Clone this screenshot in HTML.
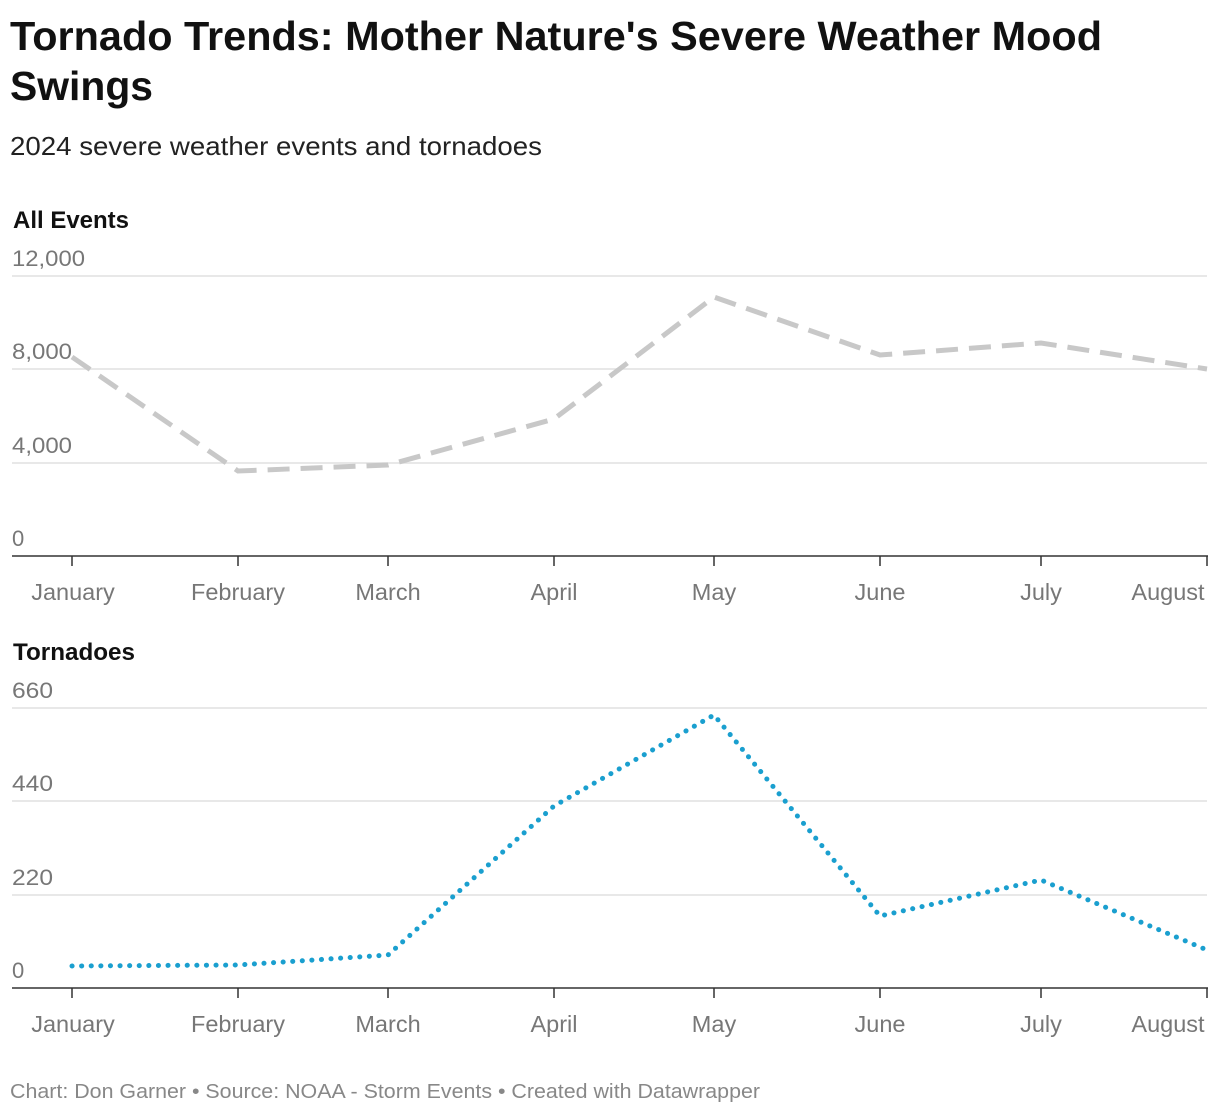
<!DOCTYPE html>
<html><head><meta charset="utf-8"><style>
body{margin:0;background:#fff;font-family:"Liberation Sans",Arial,sans-serif;}
svg{display:block}
</style></head><body>
<svg width="1220" height="1114" xmlns="http://www.w3.org/2000/svg" font-family="Liberation Sans, Arial, sans-serif">
<text x="10" y="50" font-size="41" font-weight="bold" fill="#111" textLength="1092" lengthAdjust="spacingAndGlyphs">Tornado Trends: Mother Nature's Severe Weather Mood</text>
<text x="10" y="100" font-size="41" font-weight="bold" fill="#111" textLength="143" lengthAdjust="spacingAndGlyphs">Swings</text>
<text x="10" y="155" font-size="26" fill="#222" textLength="532" lengthAdjust="spacingAndGlyphs">2024 severe weather events and tornadoes</text>

<text x="13" y="228" font-size="24" font-weight="bold" fill="#111" textLength="116" lengthAdjust="spacingAndGlyphs">All Events</text>
<g stroke="#e0e0e0" stroke-width="1.5">
<line x1="12" y1="276" x2="1207" y2="276"/><line x1="12" y1="369" x2="1207" y2="369"/><line x1="12" y1="463" x2="1207" y2="463"/>
</g>
<g font-size="22" fill="#777">
<text x="12" y="266" textLength="73" lengthAdjust="spacingAndGlyphs">12,000</text><text x="12" y="359" textLength="60" lengthAdjust="spacingAndGlyphs">8,000</text><text x="12" y="453" textLength="60" lengthAdjust="spacingAndGlyphs">4,000</text><text x="12" y="546">0</text>
</g>
<line x1="12" y1="556" x2="1208" y2="556" stroke="#333" stroke-width="1.5"/>
<g stroke="#333" stroke-width="1.5">
<line x1="72" y1="556" x2="72" y2="566"/><line x1="238" y1="556" x2="238" y2="566"/><line x1="388" y1="556" x2="388" y2="566"/><line x1="554" y1="556" x2="554" y2="566"/><line x1="714" y1="556" x2="714" y2="566"/><line x1="880" y1="556" x2="880" y2="566"/><line x1="1041" y1="556" x2="1041" y2="566"/><line x1="1207" y1="556" x2="1207" y2="566"/>
</g>
<g font-size="23.5" fill="#777" text-anchor="middle">
<text x="73" y="600">January</text><text x="238" y="600">February</text><text x="388" y="600">March</text><text x="554" y="600">April</text><text x="714" y="600">May</text><text x="880" y="600">June</text><text x="1041" y="600">July</text><text x="1168" y="600">August</text>
</g>
<polyline points="72,357 238,471 388,465 554,419 714,297 880,355 1041,343 1207,369" fill="none" stroke="#c8c8c8" stroke-width="5" stroke-dasharray="22,11"/>

<text x="13" y="660" font-size="24" font-weight="bold" fill="#111" textLength="122" lengthAdjust="spacingAndGlyphs">Tornadoes</text>
<g stroke="#e0e0e0" stroke-width="1.5">
<line x1="12" y1="708" x2="1207" y2="708"/><line x1="12" y1="801" x2="1207" y2="801"/><line x1="12" y1="895" x2="1207" y2="895"/>
</g>
<g font-size="22" fill="#777">
<text x="12" y="698" textLength="41" lengthAdjust="spacingAndGlyphs">660</text><text x="12" y="791" textLength="41" lengthAdjust="spacingAndGlyphs">440</text><text x="12" y="885" textLength="41" lengthAdjust="spacingAndGlyphs">220</text><text x="12" y="978">0</text>
</g>
<line x1="12" y1="988" x2="1208" y2="988" stroke="#333" stroke-width="1.5"/>
<g stroke="#333" stroke-width="1.5">
<line x1="72" y1="988" x2="72" y2="998"/><line x1="238" y1="988" x2="238" y2="998"/><line x1="388" y1="988" x2="388" y2="998"/><line x1="554" y1="988" x2="554" y2="998"/><line x1="714" y1="988" x2="714" y2="998"/><line x1="880" y1="988" x2="880" y2="998"/><line x1="1041" y1="988" x2="1041" y2="998"/><line x1="1207" y1="988" x2="1207" y2="998"/>
</g>
<g font-size="23.5" fill="#777" text-anchor="middle">
<text x="73" y="1032">January</text><text x="238" y="1032">February</text><text x="388" y="1032">March</text><text x="554" y="1032">April</text><text x="714" y="1032">May</text><text x="880" y="1032">June</text><text x="1041" y="1032">July</text><text x="1168" y="1032">August</text>
</g>
<polyline points="72,966 238,965 388,955 554,806 714,715 880,916 1041,880 1207,950" fill="none" stroke="#1a9fcf" stroke-width="5" stroke-dasharray="0.1,9.5" stroke-linecap="round"/>

<text x="10" y="1098" font-size="20" fill="#888" textLength="750" lengthAdjust="spacingAndGlyphs">Chart: Don Garner • Source: NOAA - Storm Events • Created with Datawrapper</text>
</svg>
</body></html>
